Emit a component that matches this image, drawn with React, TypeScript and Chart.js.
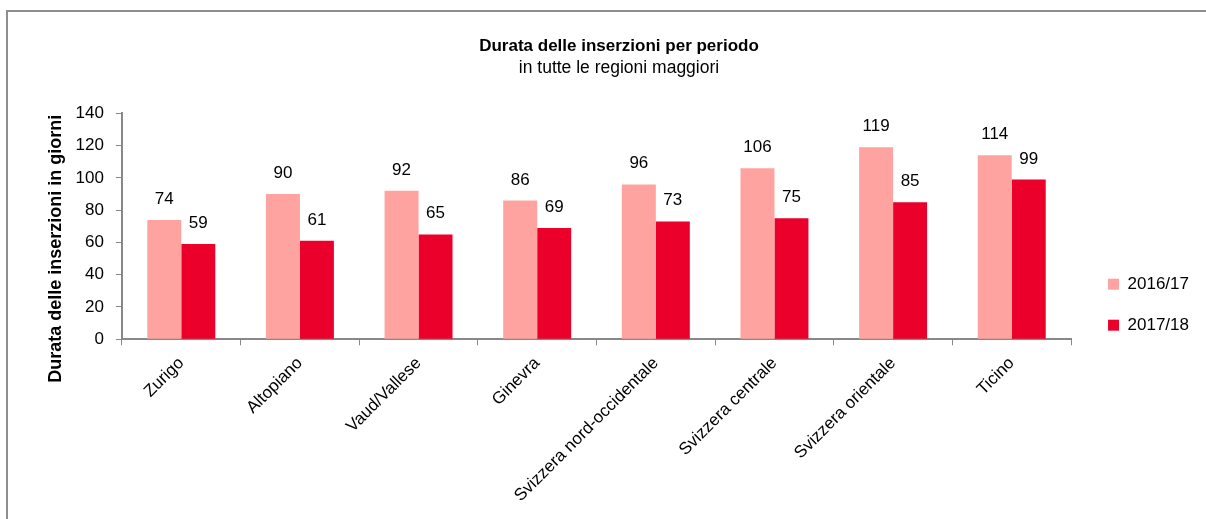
import React, { useEffect, useRef } from "react";
import { Chart, registerables } from "chart.js";

Chart.register(...registerables);

const categories = [
  "Zurigo",
  "Altopiano",
  "Vaud/Vallese",
  "Ginevra",
  "Svizzera nord-occidentale",
  "Svizzera centrale",
  "Svizzera orientale",
  "Ticino",
];
const series2016 = [74, 90, 92, 86, 96, 106, 119, 114];
const series2017 = [59, 61, 65, 69, 73, 75, 85, 99];
const seriesLabels = ["2016/17", "2017/18"];
const seriesColors = ["#FFA3A0", "#EA002B"];

const FONT = "'Liberation Sans Narrow', 'Arial Narrow', 'Liberation Sans', Arial, sans-serif";

const valueLabels = {
  id: "valueLabels",
  afterDatasetsDraw(chart: any) {
    const ctx = chart.ctx;
    ctx.save();
    ctx.font = `17px ${FONT}`;
    ctx.fillStyle = "#000";
    ctx.textAlign = "center";
    ctx.textBaseline = "alphabetic";
    chart.data.datasets.forEach((ds: any, i: number) => {
      const meta = chart.getDatasetMeta(i);
      meta.data.forEach((bar: any, j: number) => {
        ctx.fillText(String(ds.data[j]), bar.x, bar.y - 16);
      });
    });
    ctx.restore();
  },
};

export default function App() {
  const ref = useRef<HTMLCanvasElement>(null);
  useEffect(() => {
    if (!ref.current) return;
    const chart = new Chart(ref.current, {
      type: "bar",
      data: {
        labels: categories,
        datasets: [
          { label: seriesLabels[0], data: series2016, backgroundColor: seriesColors[0] },
          { label: seriesLabels[1], data: series2017, backgroundColor: seriesColors[1] },
        ],
      },
      options: {
        responsive: false,
        animation: false,
        layout: { padding: { top: 0, right: 7, left: 31, bottom: 5 } },
        datasets: { bar: { categoryPercentage: 0.573, barPercentage: 1 } },
        plugins: {
          title: {
            display: true,
            text: "Durata delle inserzioni per periodo",
            color: "#000",
            font: { family: FONT, size: 17, weight: "bold" },
            padding: { top: 24, bottom: 1 },
          },
          subtitle: {
            display: true,
            text: "in tutte le regioni maggiori",
            color: "#000",
            font: { family: FONT, size: 17.5 },
            padding: { top: 0, bottom: 35 },
          },
          legend: {
            position: "right",
            title: { display: true, text: "", padding: 34.5 },
            labels: {
              color: "#000",
              font: { family: FONT, size: 17 },
              boxWidth: 11,
              boxHeight: 11,
              padding: 24,
            },
          },
          tooltip: { enabled: false },
        },
        scales: {
          x: {
            grid: { drawOnChartArea: false, drawTicks: true, tickLength: 6, color: "#888" },
            border: { color: "#888", width: 2 },
            ticks: {
              color: "#000",
              font: { family: FONT, size: 17 },
              maxRotation: 45,
              minRotation: 45,
              padding: 8,
            },
          },
          y: {
            min: 0,
            max: 140,
            grid: { drawOnChartArea: false, drawTicks: true, tickLength: 6, color: "#888" },
            border: { color: "#888", width: 2 },
            ticks: {
              stepSize: 20,
              color: "#000",
              font: { family: FONT, size: 17 },
              padding: 12,
            },
            title: {
              display: true,
              text: "Durata delle inserzioni in giorni         ",
              color: "#000",
              font: { family: FONT, size: 18, weight: "bold" },
              padding: { top: 6, bottom: -3 },
            },
          },
          gap: {
            type: "linear",
            position: "right",
            display: true,
            grid: { display: false },
            border: { display: false },
            ticks: { display: false },
            afterFit(scale: any) {
              scale.width = 13;
            },
          },
        },
      },
      plugins: [valueLabels],
    });
    return () => chart.destroy();
  }, []);
  return (
    <div
      style={{
        position: "absolute",
        left: 6,
        top: 10,
        width: 1200,
        height: 509,
        borderTop: "2px solid #8e8e8e",
        borderLeft: "2px solid #8e8e8e",
        background: "#fff",
      }}
    >
      <canvas ref={ref} width={1198} height={507} style={{ display: "block" }} />
    </div>
  );
}
